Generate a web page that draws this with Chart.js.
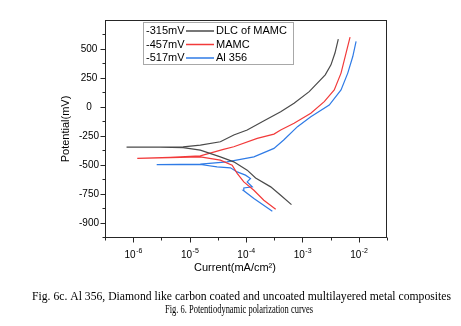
<!DOCTYPE html>
<html>
<head>
<meta charset="utf-8">
<title>Potentiodynamic polarization curves</title>
<script src="https://cdn.jsdelivr.net/npm/chart.js@4.4.1/dist/chart.umd.min.js"></script>
<style>
  html, body { margin: 0; padding: 0; background: #fff; }
  #wrap { position: relative; width: 461px; height: 326px; }
</style>
</head>
<body>
<div id="wrap"><canvas id="polChart" width="461" height="326"></canvas></div>
<script>
// current (mA/cm2) and potential (mV)
// each curve goes cathodic end -> Ecorr dip -> anodic end
const dlcCurrent = [6.40e-4, 4.12e-4, 2.74e-4, 1.48e-4, 1.05e-4, 6.07e-5, 3.51e-5, 1.55e-5, 7.69e-6, 2.99e-6, 7.62e-7,
  2.99e-6, 7.69e-6, 1.55e-5, 3.51e-5, 6.07e-5, 1.05e-4, 2.05e-4, 4.12e-4, 7.11e-4, 1.32e-3, 2.54e-3, 3.21e-3, 3.78e-3, 4.33e-3];
const dlcPotential = [-842, -761, -689, -612, -545, -473, -430, -372, -350, -346, -346,
  -346, -344, -329, -300, -242, -199, -121, -41, 32, 132, 277, 363, 465, 586];

const mamcCurrent = [3.36e-4, 2.07e-4, 1.38e-4, 9.14e-5, 6.97e-5, 5.68e-5, 3.51e-5, 1.55e-5, 4.51e-6, 1.18e-6,
  4.51e-6, 1.55e-5, 3.98e-5, 6.07e-5, 1.58e-4, 3.13e-4, 4.12e-4, 7.11e-4, 1.41e-3, 2.44e-3, 3.67e-3, 4.84e-3, 5.94e-3, 7.00e-3];
const mamcPotential = [-882, -804, -718, -646, -573, -502, -458, -430, -437, -444,
  -434, -421, -366, -343, -271, -234, -199, -141, -54, 46, 147, 292, 465, 603];

const alCurrent = [2.93e-4, 1.38e-4, 8.91e-5, 9.14e-5, 1.29e-4, 1.05e-4, 1.20e-4, 9.80e-5, 6.97e-5, 5.30e-5, 3.07e-5, 1.55e-5, 6.79e-6, 2.61e-6,
  6.79e-6, 1.55e-5, 4.62e-5, 1.38e-4, 3.13e-4, 4.66e-4, 8.18e-4, 1.41e-3, 2.99e-3, 4.84e-3, 6.37e-3, 7.82e-3, 8.95e-3];
const alPotential = [-900, -790, -718, -698, -689, -646, -617, -588, -560, -525, -516, -496, -497, -497,
  -495, -493, -473, -430, -357, -285, -170, -84, 17, 147, 292, 435, 565];

const seriesNames = ['DLC of MAMC', 'MAMC', 'Al 356'];
const ecorrLabels = ['-315mV', '-457mV', '-517mV'];
const seriesColors = ['#4a4a4a', '#f23a3a', '#2f7be6'];

const xTickValues = [1e-6, 1e-5, 1e-4, 1e-3, 1e-2];
const xTickExponents = ['-6', '-5', '-4', '-3', '-2'];
const xMinorTicks = [3.162e-7, 3.162e-6, 3.162e-5, 3.162e-4, 3.162e-3, 3.162e-2];
const yTickValues = [500, 250, 0, -250, -500, -750, -1000];
const yTickLabels = ['500', '250', '0', '-250', '-500', '-750', '-900'];
const yMinorTicks = [625, 375, 125, -125, -375, -625, -875, -1125];

const xTitle = 'Current(mA/cm²)';
const yTitle = 'Potential(mV)';
const captionLines = [
  'Fig. 6c. Al 356, Diamond like carbon coated and uncoated multilayered metal composites',
  'Fig. 6. Potentiodynamic polarization curves'
];

const SANS = '"Liberation Sans", Arial, sans-serif';
const SERIF = '"Liberation Serif", "Times New Roman", serif';

const toPoints = (xs, ys) => xs.map((x, i) => ({ x: x, y: ys[i] }));

const curves = [
  toPoints(dlcCurrent, dlcPotential),
  toPoints(mamcCurrent, mamcPotential),
  toPoints(alCurrent, alPotential)
];

// squeeze/stretch a caption line so it spans the same width as in the scan
const fitText = (ctx, text, cx, y, width) => {
  const w = ctx.measureText(text).width;
  ctx.save();
  ctx.translate(cx, y);
  ctx.scale(width / w, 1);
  ctx.fillText(text, 0, 0);
  ctx.restore();
};

// frame, ticks, labels, legend and caption
const figurePlugin = {
  id: 'figurePlugin',
  afterDraw(chart) {
    const ctx = chart.ctx;
    const area = chart.chartArea;
    const xs = chart.scales.x;
    const ys = chart.scales.y;
    const L = Math.round(area.left) + 0.5;
    const R = Math.round(area.right) - 0.5;
    const T = Math.round(area.top) + 0.5;
    const B = Math.round(area.bottom) - 0.5;

    ctx.save();
    ctx.strokeStyle = '#262626';
    ctx.lineWidth = 1;
    ctx.strokeRect(L, T, R - L, B - T);

    ctx.beginPath();
    yTickValues.forEach(v => {
      const py = Math.round(ys.getPixelForValue(v)) + 0.5;
      ctx.moveTo(L, py); ctx.lineTo(L - 5, py);
    });
    yMinorTicks.forEach(v => {
      const py = Math.round(ys.getPixelForValue(v)) + 0.5;
      ctx.moveTo(L, py); ctx.lineTo(L - 3, py);
    });
    xTickValues.forEach(v => {
      const px = Math.round(xs.getPixelForValue(v)) + 0.5;
      ctx.moveTo(px, B); ctx.lineTo(px, B + 5);
    });
    xMinorTicks.forEach(v => {
      const px = Math.round(xs.getPixelForValue(v)) + 0.5;
      ctx.moveTo(px, B); ctx.lineTo(px, B + 3);
    });
    ctx.stroke();

    ctx.fillStyle = '#000';
    ctx.font = '10px ' + SANS;
    ctx.textAlign = 'center';
    ctx.textBaseline = 'middle';
    yTickValues.forEach((v, i) => {
      ctx.fillText(yTickLabels[i], 89, ys.getPixelForValue(v));
    });

    ctx.textBaseline = 'alphabetic';
    ctx.textAlign = 'left';
    xTickValues.forEach((v, i) => {
      const px = xs.getPixelForValue(v);
      ctx.font = '10px ' + SANS;
      const w1 = ctx.measureText('10').width;
      ctx.font = '7px ' + SANS;
      const w2 = ctx.measureText(xTickExponents[i]).width;
      const x0 = px - (w1 + w2) / 2;
      ctx.font = '10px ' + SANS;
      ctx.fillText('10', x0, 258);
      ctx.font = '7px ' + SANS;
      ctx.fillText(xTickExponents[i], x0 + w1 + 0.5, 253);
    });

    // axis titles
    ctx.font = '11px ' + SANS;
    ctx.textAlign = 'center';
    ctx.textBaseline = 'middle';
    ctx.fillText(xTitle, 235, 268);
    ctx.save();
    ctx.translate(66, (area.top + area.bottom) / 2);
    ctx.rotate(-Math.PI / 2);
    ctx.fillText(yTitle, 0, 0);
    ctx.restore();

    // legend
    ctx.strokeStyle = '#a8a8a8';
    ctx.strokeRect(143.5, 22.5, 150, 42);
    ctx.font = '11px ' + SANS;
    ctx.textAlign = 'left';
    seriesNames.forEach((name, i) => {
      const y = 31 + i * 13.5;
      ctx.fillStyle = '#000';
      ctx.fillText(ecorrLabels[i], 146, y);
      ctx.fillText(name, 216, y);
      ctx.strokeStyle = seriesColors[i];
      ctx.lineWidth = 1.5;
      ctx.beginPath();
      ctx.moveTo(186, y); ctx.lineTo(214, y);
      ctx.stroke();
    });

    // figure caption
    ctx.fillStyle = '#000';
    ctx.font = '11.5px ' + SERIF;
    ctx.textAlign = 'center';
    fitText(ctx, captionLines[0], 241.5, 297, 419);
    fitText(ctx, captionLines[1], 239, 310, 148);
    ctx.restore();
  }
};

new Chart(document.getElementById('polChart'), {
  type: 'scatter',
  data: {
    datasets: curves.map((pts, i) => ({
      label: seriesNames[i],
      data: pts,
      showLine: true,
      borderColor: seriesColors[i],
      backgroundColor: seriesColors[i],
      borderWidth: 1.2,
      pointRadius: 0,
      tension: 0
    }))
  },
  options: {
    responsive: false,
    animation: false,
    devicePixelRatio: 1,
    layout: { padding: { top: 20, right: 74, bottom: 0, left: 0 } },
    plugins: {
      legend: { display: false },
      tooltip: { enabled: false }
    },
    scales: {
      x: {
        type: 'logarithmic',
        min: 3.162e-7,
        max: 3.162e-2,
        grid: { display: false },
        border: { display: false },
        ticks: { display: false },
        afterFit: (scale) => { scale.height = 88; }
      },
      y: {
        type: 'linear',
        min: -1130,
        max: 750,
        grid: { display: false },
        border: { display: false },
        ticks: { display: false },
        afterFit: (scale) => { scale.width = 105; }
      }
    }
  },
  plugins: [figurePlugin]
});
</script>
</body>
</html>
